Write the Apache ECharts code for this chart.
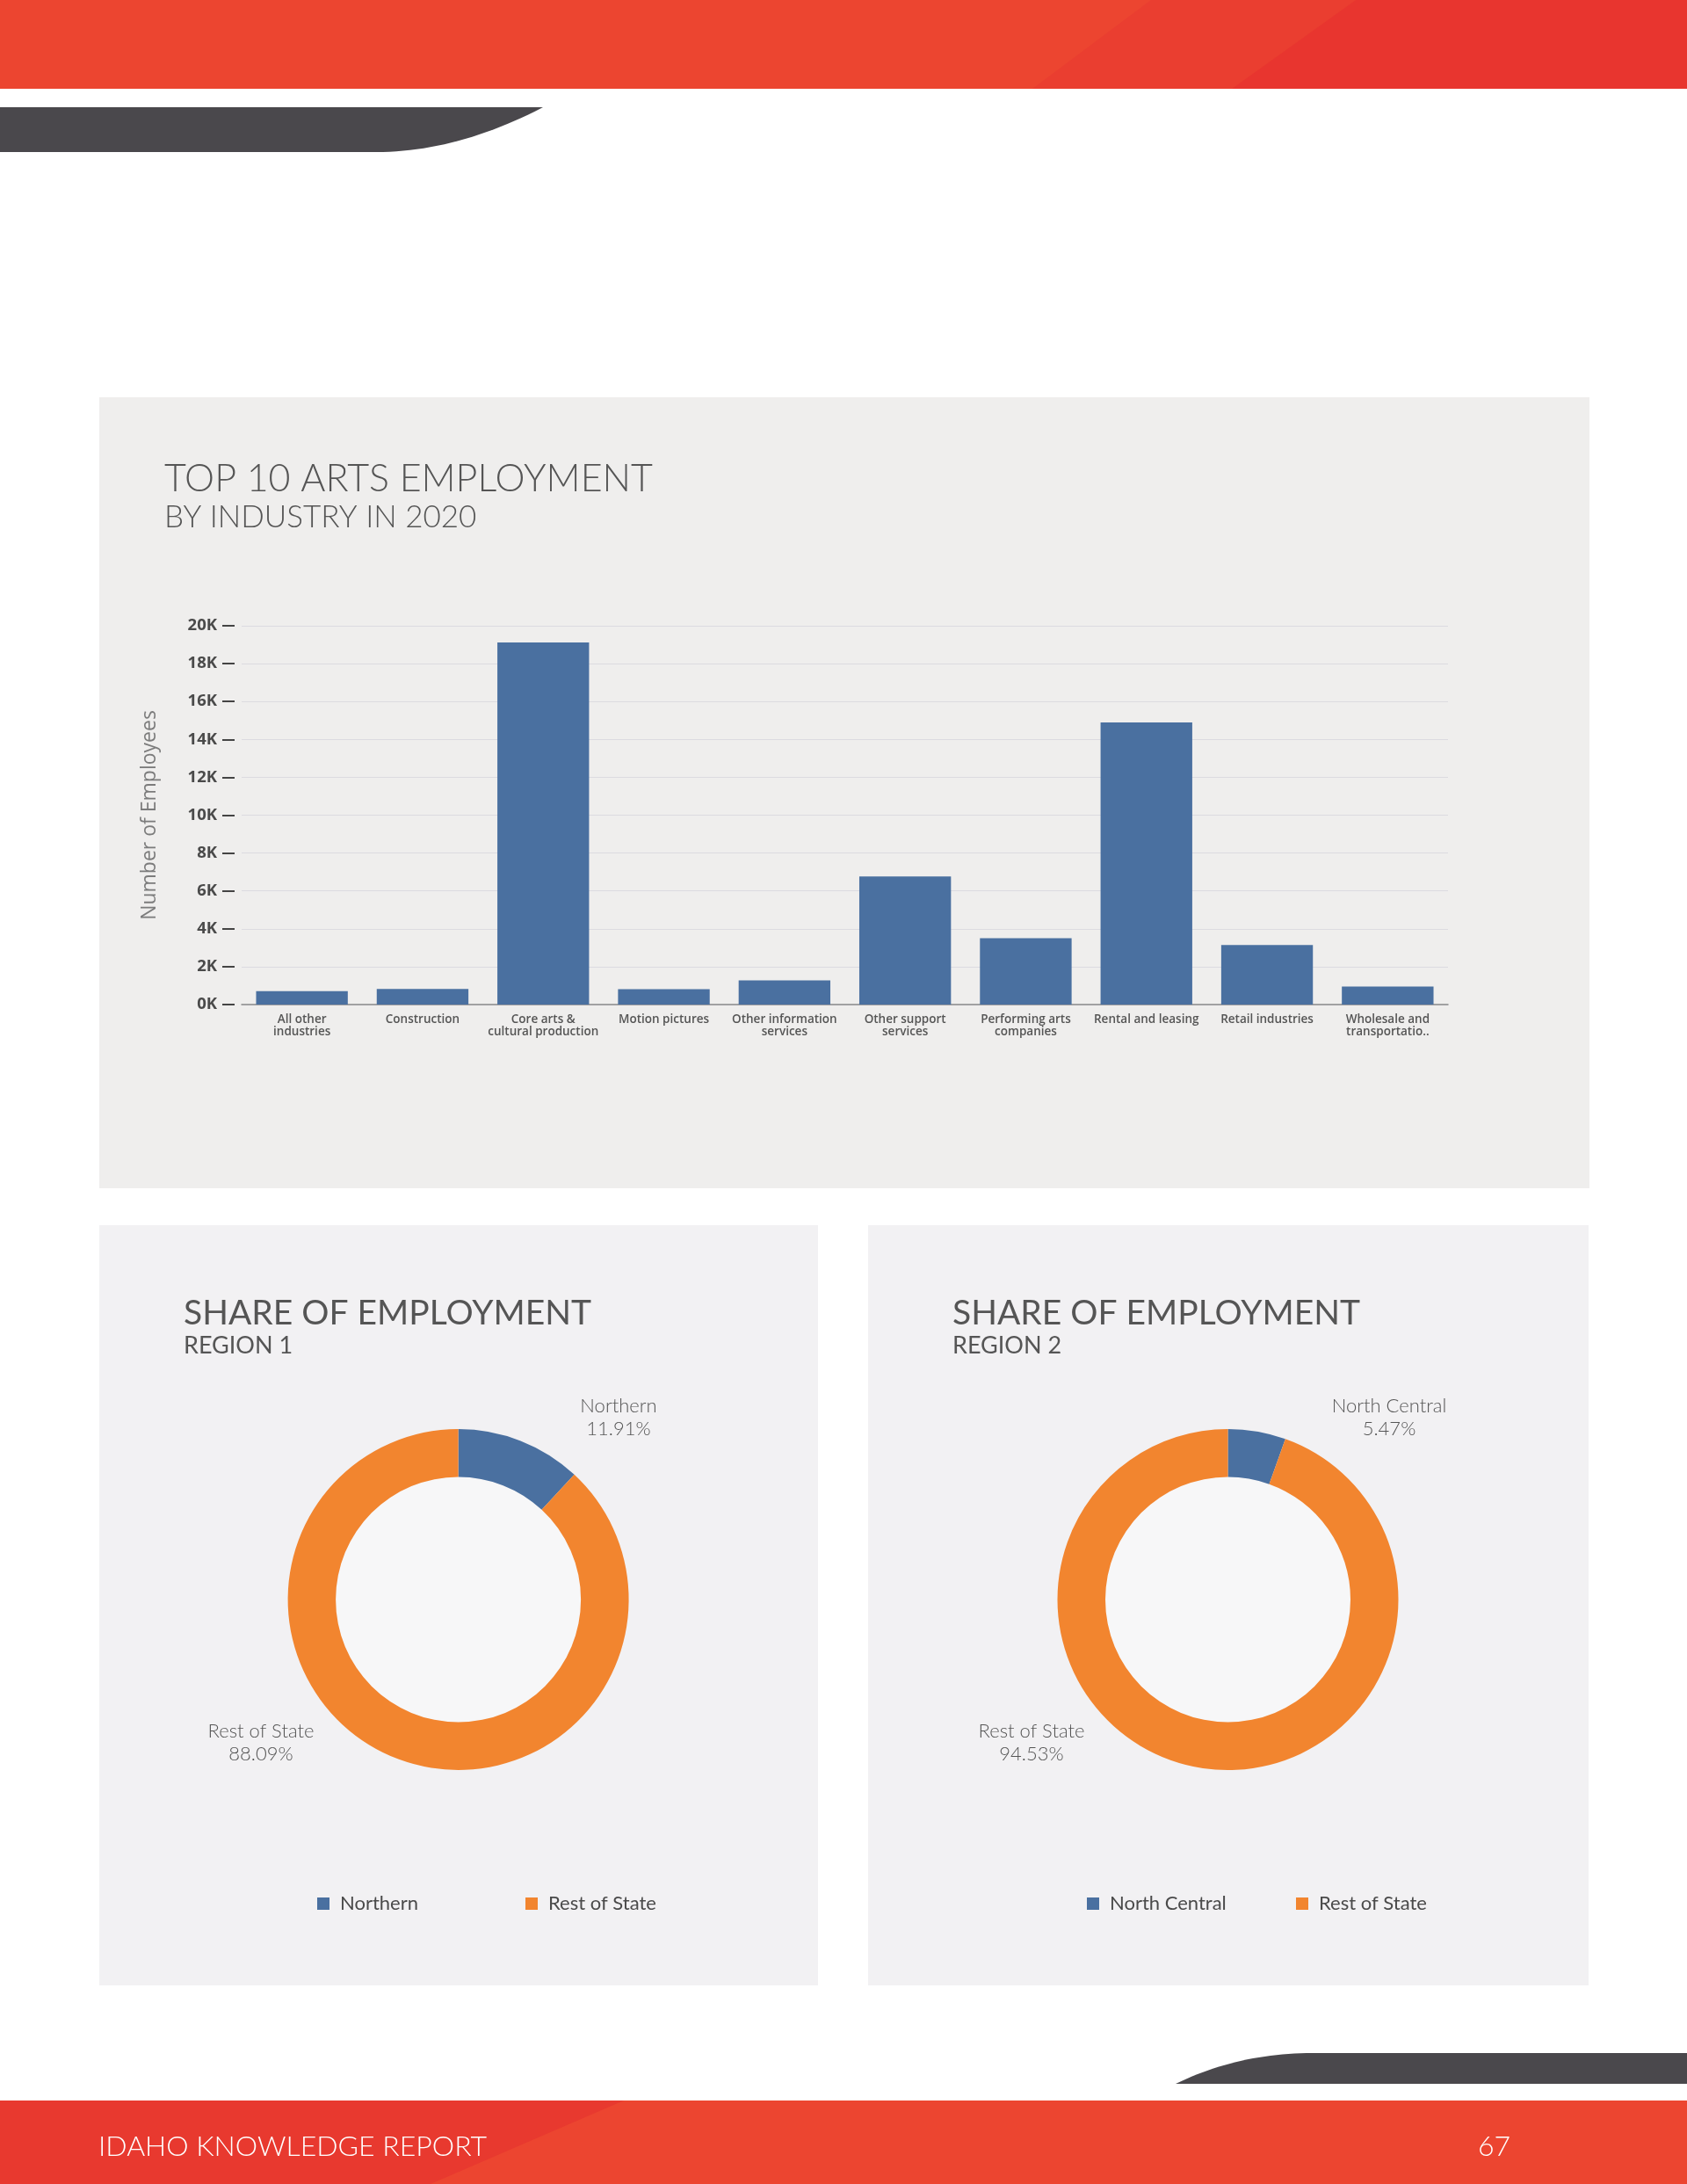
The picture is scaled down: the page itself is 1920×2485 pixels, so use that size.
<!DOCTYPE html>
<html>
<head>
<meta charset="utf-8">
<script src="https://cdn.jsdelivr.net/npm/echarts@6/dist/echarts.min.js"></script>
<style>
html,body{margin:0;padding:0;background:#ffffff;}
#c{width:1920px;height:2485px;}
</style>
</head>
<body>
<div id="c"></div>
<script>
// ---------- data ----------
const industries = [
  "All other\nindustries",
  "Construction",
  "Core arts &\ncultural production",
  "Motion pictures",
  "Other information\nservices",
  "Other support\nservices",
  "Performing arts\ncompanies",
  "Rental and leasing",
  "Retail industries",
  "Wholesale and\ntransportatio.."
];
const employees = [710, 820, 19120, 810, 1280, 6760, 3500, 14900, 3140, 950];

const region1Names = ["Northern", "Rest of State"];
const region1Shares = [11.91, 88.09];
const region2Names = ["North Central", "Rest of State"];
const region2Shares = [5.47, 94.53];

// ---------- styles / layout ----------
const BLUE = "#4A70A0";
const ORANGE = "#F2852F";
const sliceColors = [BLUE, ORANGE];
const pieCenters = [[521.6, 1820], [1397.5, 1820]];
const pieLabelSpots = [
  [[704, 1613], [297, 1983]],
  [[1581, 1613], [1174, 1983]]
];

// decorative swoosh outline: straight points plus a quadratic curve sampled
function swoosh(before, p0, c, p1, after) {
  const pts = before.slice();
  for (let i = 0; i <= 24; i++) {
    const t = i / 24, u = 1 - t;
    pts.push([u * u * p0[0] + 2 * u * t * c[0] + t * t * p1[0], u * u * p0[1] + 2 * u * t * c[1] + t * t * p1[1]]);
  }
  return pts.concat(after);
}

function pieData(names, vals) {
  return names.map((n, i) => ({ name: n, value: vals[i], itemStyle: { color: sliceColors[i] } }));
}

function pieSeries(idx, names, vals) {
  return {
    type: "pie",
    center: pieCenters[idx],
    radius: [139.5, 194],
    startAngle: 90,
    clockwise: true,
    avoidLabelOverlap: false,
    silent: true,
    data: pieData(names, vals),
    label: {
      show: true,
      formatter: p => p.name + "\n" + p.value.toFixed(2) + "%",
      fontFamily: "Lato",
      fontWeight: 300,
      fontSize: 22,
      lineHeight: 26,
      color: "#555555"
    },
    labelLine: { show: false },
    labelLayout: p => {
      const s = pieLabelSpots[idx][p.dataIndex];
      return { x: s[0], y: s[1], align: "center", verticalAlign: "middle" };
    }
  };
}

function legendItem(name, left) {
  return {
    data: [name],
    left: left,
    top: 2155,
    orient: "horizontal",
    icon: "rect",
    itemWidth: 14,
    itemHeight: 14,
    padding: 0,
    selectedMode: false,
    textStyle: { fontFamily: "Lato", fontSize: 22, color: "#4a4a4a", padding: [0, 0, 0, 7] }
  };
}

function mkTitle(text, left, top, size, weight) {
  return {
    text: text, left: left, top: top, padding: 0,
    textStyle: { fontFamily: "Lato", color: "#555555", fontSize: size, fontWeight: weight }
  };
}

const chart = echarts.init(document.getElementById("c"), null, { renderer: "canvas" });

const option = {
  backgroundColor: "#ffffff",
  animation: false,
  title: [
    mkTitle("TOP 10 ARTS EMPLOYMENT", 187, 524, 43, 300),
    mkTitle("BY INDUSTRY IN 2020", 187, 571, 35, 300),
    mkTitle("SHARE OF EMPLOYMENT", 209, 1475, 39, 400),
    mkTitle("REGION 1", 209, 1518, 27, 400),
    mkTitle("SHARE OF EMPLOYMENT", 1084, 1475, 39, 400),
    mkTitle("REGION 2", 1084, 1518, 27, 400)
  ],
  legend: [
    legendItem("Northern", 361),
    legendItem("Rest of State", 598),
    legendItem("North Central", 1237),
    legendItem("Rest of State", 1475)
  ],
  graphic: {
    elements: [
      // header band
      { type: "rect", z: -10, shape: { x: 0, y: 0, width: 1920, height: 101 }, style: { fill: "#EC4530" } },
      { type: "polygon", z: -9, shape: { points: [[1310, 0], [1543, 0], [1402, 101], [1175, 101]] }, style: { fill: "#EA3E30" } },
      { type: "polygon", z: -9, shape: { points: [[1543, 0], [1920, 0], [1920, 101], [1402, 101]] }, style: { fill: "#E8352F" } },
      { type: "polygon", z: -9, shape: { points: swoosh([[0, 122]], [618, 122], [520, 173], [428, 173], [[0, 173]]) }, style: { fill: "#4A484C" } },
      // footer
      { type: "polygon", z: -9, shape: { points: swoosh([[1920, 2336]], [1494, 2336], [1410, 2336], [1338, 2371], [[1920, 2371]]) }, style: { fill: "#4A484C" } },
      { type: "rect", z: -10, shape: { x: 0, y: 2390, width: 1920, height: 95 }, style: { fill: "#EC4530" } },
      { type: "polygon", z: -9, shape: { points: [[0, 2390], [710, 2390], [490, 2485], [0, 2485]] }, style: { fill: "#E8392F" } },
      { type: "text", z: 5, left: 112, top: 2427, style: { text: "IDAHO KNOWLEDGE REPORT", fill: "#ffffff", font: "300 32px Lato" } },
      { type: "text", z: 5, left: 1682, top: 2427, style: { text: "67", fill: "#ffffff", font: "300 32px Lato" } },
      // panels
      { type: "rect", z: -10, shape: { x: 113, y: 452, width: 1696, height: 900 }, style: { fill: "#EFEEED" } },
      { type: "rect", z: -10, shape: { x: 113, y: 1394, width: 818, height: 865 }, style: { fill: "#F2F1F3" } },
      { type: "rect", z: -10, shape: { x: 988, y: 1394, width: 820, height: 865 }, style: { fill: "#F2F1F3" } },
      // donut holes
      { type: "circle", z: -5, shape: { cx: 521.6, cy: 1820, r: 140 }, style: { fill: "#F7F7F8" } },
      { type: "circle", z: -5, shape: { cx: 1397.5, cy: 1820, r: 140 }, style: { fill: "#F7F7F8" } }
    ]
  },
  grid: { left: 275, right: 272, top: 712, bottom: 1342, containLabel: false },
  xAxis: {
    type: "category",
    data: industries,
    axisTick: { show: false },
    axisLine: { show: true, lineStyle: { color: "#8a8a8a", width: 1.5 } },
    axisLabel: {
      interval: 0,
      margin: 10,
      fontFamily: "Open Sans",
      fontWeight: 600,
      fontSize: 13.5,
      lineHeight: 14,
      color: "#555555"
    }
  },
  yAxis: {
    type: "value",
    min: 0,
    max: 20000,
    interval: 2000,
    offset: 8,
    name: "Number of Employees",
    nameLocation: "middle",
    nameGap: 85,
    nameTextStyle: { fontFamily: "Open Sans", fontSize: 23, color: "#7c7c7c" },
    axisLine: { show: false },
    axisTick: { show: true, length: 14, lineStyle: { color: "#444444", width: 2 } },
    axisLabel: {
      margin: 20,
      formatter: v => (v / 1000) + "K",
      fontFamily: "Open Sans",
      fontWeight: 700,
      fontSize: 18.5,
      color: "#4a4a4a"
    },
    splitLine: { show: true, lineStyle: { color: "#DCDBE0", width: 1.2 } }
  },
  series: [
    {
      type: "bar",
      data: employees,
      barWidth: "76%",
      itemStyle: { color: BLUE },
      silent: true
    },
    pieSeries(0, region1Names, region1Shares),
    pieSeries(1, region2Names, region2Shares)
  ]
};

chart.setOption(option);
</script>
</body>
</html>
